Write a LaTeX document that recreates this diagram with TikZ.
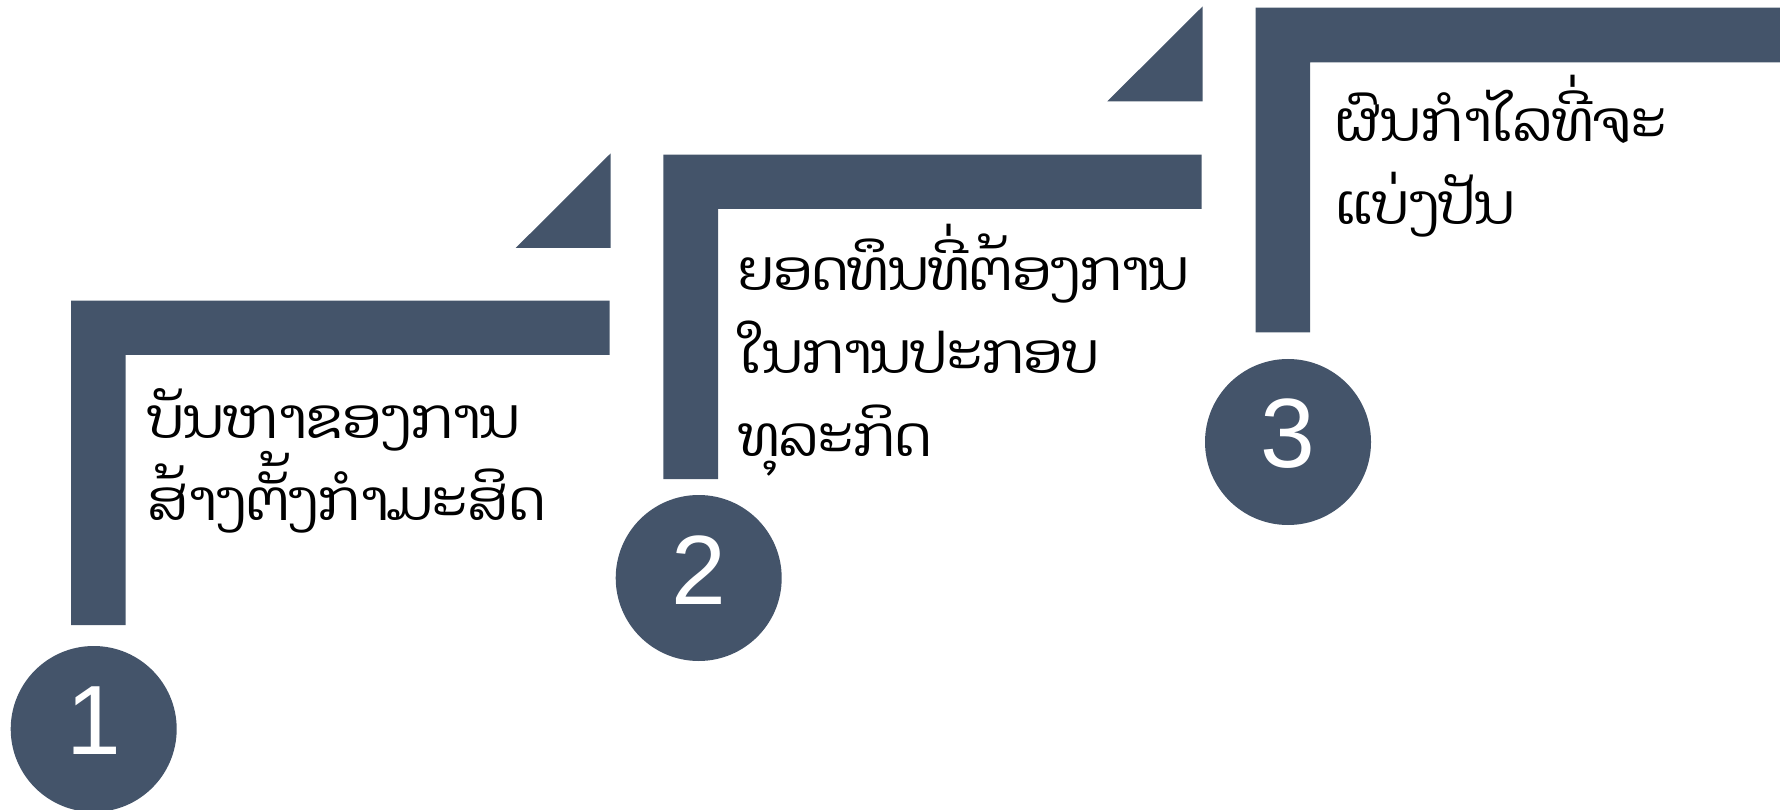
\documentclass[tikz,border=0pt]{standalone}
\usepackage{fontspec}
\newfontfamily\laofont[Script=Lao]{Dhyana}
\newfontfamily\numfont{Liberation Sans}
\definecolor{slate}{HTML}{44546A}

\begin{document}
\begin{tikzpicture}[x=0.01cm,y=-0.01cm,
  bar/.style={fill=slate},
  laotext/.style={anchor=base west,align=left,inner sep=0pt,font=\laofont\fontsize{16}{23.6}\selectfont},
  numtext/.style={text=white,inner sep=0pt,font=\numfont\fontsize{28}{30}\selectfont}]
  \useasboundingbox (0,0) rectangle (1780,810);
  \fill[bar] (71,300.7) -- (609.7,300.7) -- (609.7,355) -- (125.7,355) -- (125.7,625) -- (71,625) -- cycle;
  \fill[bar] (515.7,248) -- (610.7,248) -- (610.7,153.3) -- cycle;
  \fill[bar] (663.3,154.7) -- (1201.7,154.7) -- (1201.7,209) -- (718,209) -- (718,479) -- (663.3,479) -- cycle;
  \fill[bar] (1107.3,101.3) -- (1202.7,101.3) -- (1202.7,6.3) -- cycle;
  \fill[bar] (1255.5,7.7) -- (1780,7.7) -- (1780,62.3) -- (1310,62.3) -- (1310,332.3) -- (1255.5,332.3) -- cycle;
  \fill[bar] (93.7,729) circle (83);
  \fill[bar] (698.7,578) circle (83);
  \fill[bar] (1288,442) circle (83);
  \node[numtext] (num1) at (93.7,721) {1};
  \node[numtext] (num2) at (698.7,570) {2};
  \node[numtext] (num3) at (1288,434) {3};
  \node[laotext] (step1) at (147,521) {ບັນຫາຂອງການ\\ສ້າງຕັ້ງກຳມະສິດ};
  \node[laotext] (step2) at (738,456) {ຍອດທຶນທີ່ຕ້ອງການ\\ໃນການປະກອບ\\ທຸລະກິດ};
  \node[laotext] (step3) at (1335,225) {ຜົນກຳໄລທີ່ຈະ\\ແບ່ງປັນ};
\end{tikzpicture}
\end{document}
